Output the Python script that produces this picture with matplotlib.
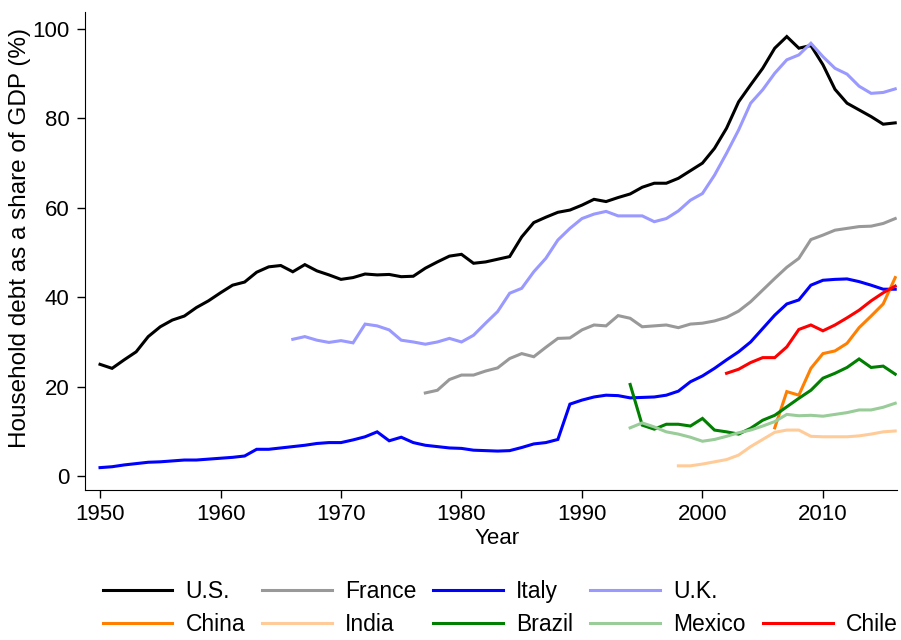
import numpy as np
import matplotlib
matplotlib.use("Agg")
import matplotlib.pyplot as plt
from matplotlib.lines import Line2D

plt.rcParams['font.family'] = ['Liberation Sans', 'DejaVu Sans']

# household debt as share of GDP (%)
us_years = list(range(1950, 2017))
us_vals = [25.0, 24.1, 26.0, 27.8, 31.2, 33.4, 34.9, 35.8, 37.7, 39.2,
           41.0, 42.7, 43.4, 45.6, 46.8, 47.1, 45.7, 47.3, 45.9, 45.0,
           44.0, 44.4, 45.2, 45.0, 45.1, 44.6, 44.7, 46.5, 47.9, 49.2,
           49.6, 47.6, 47.9, 48.5, 49.1, 53.5, 56.7, 57.9, 59.0, 59.5,
           60.6, 61.9, 61.4, 62.3, 63.1, 64.6, 65.5, 65.5, 66.6, 68.3,
           70.0, 73.3, 77.8, 83.7, 87.5, 91.2, 95.7, 98.3, 95.7, 96.3,
           92.0, 86.5, 83.4, 81.9, 80.4, 78.7, 79.0]

france_years = list(range(1977, 2017))
france_vals = [18.6, 19.2, 21.6, 22.6, 22.6, 23.5, 24.2, 26.3, 27.4, 26.7,
               28.8, 30.8, 30.9, 32.7, 33.8, 33.6, 35.9, 35.3, 33.4, 33.6,
               33.8, 33.2, 34.0, 34.2, 34.7, 35.5, 36.9, 39.0, 41.6, 44.2,
               46.7, 48.7, 52.9, 53.9, 55.0, 55.4, 55.8, 55.9, 56.5, 57.6]

italy_years = list(range(1950, 2017))
italy_vals = [1.9, 2.1, 2.5, 2.8, 3.1, 3.2, 3.4, 3.6, 3.6, 3.8,
              4.0, 4.2, 4.5, 6.0, 6.0, 6.3, 6.6, 6.9, 7.3, 7.5,
              7.5, 8.1, 8.8, 9.9, 7.9, 8.7, 7.5, 6.9, 6.6, 6.3,
              6.2, 5.8, 5.7, 5.6, 5.7, 6.4, 7.2, 7.5, 8.2, 16.1,
              17.0, 17.7, 18.1, 18.0, 17.5, 17.6, 17.7, 18.1, 19.0, 21.1,
              22.4, 24.1, 26.0, 27.8, 30.0, 33.0, 36.0, 38.5, 39.4, 42.7,
              43.8, 44.0, 44.1, 43.5, 42.7, 41.8, 41.8]

uk_years = list(range(1966, 2017))
uk_vals = [30.6, 31.2, 30.4, 29.9, 30.3, 29.8, 34.0, 33.6, 32.7, 30.4,
           30.0, 29.5, 30.0, 30.8, 30.0, 31.5, 34.2, 36.8, 40.9, 42.0,
           45.7, 48.7, 52.8, 55.4, 57.6, 58.6, 59.2, 58.2, 58.2, 58.2,
           56.9, 57.6, 59.3, 61.7, 63.2, 67.3, 72.2, 77.4, 83.4, 86.4,
           90.1, 93.1, 94.2, 96.8, 93.8, 91.2, 89.9, 87.2, 85.6, 85.8,
           86.6]

china_years = list(range(2006, 2017))
china_vals = [10.8, 18.9, 18.1, 24.1, 27.4, 28.0, 29.7, 33.2, 35.8, 38.5, 44.4]

india_years = list(range(1998, 2017))
india_vals = [2.3, 2.3, 2.7, 3.2, 3.7, 4.7, 6.6, 8.2, 9.8, 10.3,
              10.3, 8.9, 8.8, 8.8, 8.8, 9.0, 9.4, 9.9, 10.1]

brazil_years = list(range(1994, 2017))
brazil_vals = [20.5, 11.4, 10.5, 11.6, 11.6, 11.2, 12.9, 10.3, 9.9, 9.4,
               10.7, 12.5, 13.6, 15.5, 17.4, 19.2, 21.9, 23.0, 24.3, 26.2,
               24.3, 24.6, 22.8]

mexico_years = list(range(1994, 2017))
mexico_vals = [10.8, 11.9, 11.0, 9.9, 9.4, 8.7, 7.8, 8.2, 8.9, 9.7,
               10.3, 11.2, 12.2, 13.8, 13.5, 13.6, 13.4, 13.8, 14.2, 14.8,
               14.8, 15.4, 16.3]

chile_years = list(range(2002, 2017))
chile_vals = [23.0, 23.9, 25.4, 26.5, 26.5, 28.9, 32.8, 33.8, 32.5, 33.8,
              35.4, 37.1, 39.2, 41.0, 42.5]

series = [
    ("U.S.", us_years, us_vals, "#000000"),
    ("France", france_years, france_vals, "#999999"),
    ("Italy", italy_years, italy_vals, "#0000ff"),
    ("U.K.", uk_years, uk_vals, "#9999ff"),
    ("China", china_years, china_vals, "#ff7f00"),
    ("India", india_years, india_vals, "#ffcc99"),
    ("Brazil", brazil_years, brazil_vals, "#007f00"),
    ("Mexico", mexico_years, mexico_vals, "#99cc99"),
    ("Chile", chile_years, chile_vals, "#ff0000"),
]

fig = plt.figure(figsize=(9.01, 6.40), dpi=100)
ax = fig.add_axes([0.0943, 0.2344, 0.9013, 0.7469])

handles = {}
for name, yrs, vals, col in series:
    line, = ax.plot(yrs, vals, color=col, lw=2.2, solid_joinstyle='miter')
    handles[name] = line

ax.set_xlim(1948.75, 2016.15)
ax.set_ylim(-3.1, 103.8)
ax.set_xticks(range(1950, 2011, 10))
ax.set_yticks(range(0, 101, 20))
ax.tick_params(labelsize=16, length=6, width=1, direction='out')
ax.tick_params(axis='y', pad=5)
ax.tick_params(axis='x', pad=4)
ax.spines['top'].set_visible(False)
ax.spines['right'].set_visible(False)
ax.set_xlabel("Year", fontsize=16)
ax.set_ylabel("Household debt as a share of GDP (%)", fontsize=17.5)
ax.xaxis.set_label_coords(0.507, -0.08)
ax.yaxis.set_label_coords(-0.067, 0.527)

# legend: 2 rows, first row has 4 entries, second row 5
blank = Line2D([], [], color='none')
order = ["U.S.", "China", "France", "India", "Italy", "Brazil", "U.K.", "Mexico", None, "Chile"]
leg_h = [handles[k] if k else blank for k in order]
leg_l = [k if k else "" for k in order]
fig.legend(leg_h, leg_l, ncol=5, loc='center', bbox_to_anchor=(500 / 901, 1 - 608 / 640),
           frameon=False, fontsize=16.5, handlelength=3.05, handletextpad=0.57,
           columnspacing=0.74, labelspacing=0.45)

fig.savefig("out.png", dpi=100)
